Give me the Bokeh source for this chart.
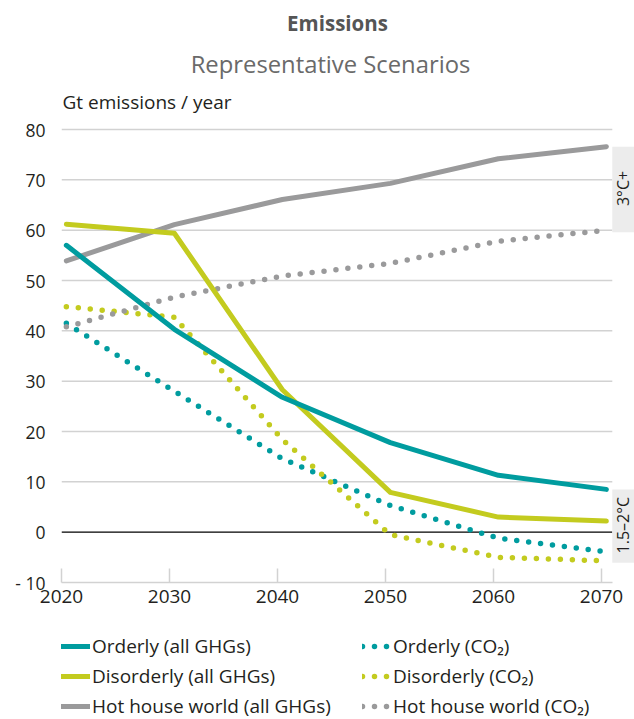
import math
from bokeh.plotting import figure
from bokeh.layouts import column
from bokeh.models import Range1d, FixedTicker, Label, Legend, LegendItem
from bokeh.core.properties import value
from bokeh.embed import file_html
from bokeh.resources import INLINE

# ---------------- data ----------------
years = [2020, 2030, 2040, 2050, 2060, 2070]
orderly_ghg = [57.0, 40.3, 26.8, 17.8, 11.3, 8.5]
disorderly_ghg = [61.2, 59.4, 28.3, 7.9, 3.0, 2.2]
hothouse_ghg = [53.9, 61.1, 66.1, 69.3, 74.2, 76.6]
orderly_co2 = [41.5, 28.0, 14.6, 5.3, -1.2, -3.9]
disorderly_co2 = [44.8, 42.7, 18.4, -0.5, -5.0, -5.7]
hothouse_co2 = [40.8, 46.7, 50.9, 53.4, 57.8, 60.0]
y_ticks = [-10, 0, 10, 20, 30, 40, 50, 60, 70, 80]
y_tick_overrides = {-10: "- 10"}
box_labels = ["3°C+", "1.5–2°C"]
legend_labels_ghg = ["Orderly (all GHGs)", "Disorderly (all GHGs)", "Hot house world (all GHGs)"]
legend_labels_co2 = ["Orderly (CO₂)", "Disorderly (CO₂)", "Hot house world (CO₂)"]

# ---------------- style ----------------
FONT = "Open Sans"
TEAL = "#009c9f"
LIME = "#c3cb1f"
GREY = "#9a9a9b"
TXT = "#231f20"
GRID = "#d2d2d2"
BOX = "#ececec"

W = 634
H_MAIN, H_LEG = 615, 104
LEFT, BOTTOM = 61, 33          # frame: x 61..634, y 0..582
PX_PER_UNIT = 5.033
Y_TOP = -10 + (H_MAIN - BOTTOM) / PX_PER_UNIT
PX_PER_YEAR = 10.8
X_START = 2020
X_END = X_START + (W - LEFT) / PX_PER_YEAR
GRID_END = 2071.0
X_SHIFT = 0.45
DOT_DASH = "0 12"

p = figure(width=W, height=H_MAIN, output_backend="svg", toolbar_location=None,
           x_range=Range1d(X_START, X_END), y_range=Range1d(-10, Y_TOP),
           min_border_left=LEFT, min_border_right=0, min_border_top=0,
           min_border_bottom=BOTTOM)
p.outline_line_color = None
p.xgrid.grid_line_color = None
p.ygrid.grid_line_color = None

# axes
p.xaxis.ticker = FixedTicker(ticks=years)
p.xaxis.bounds = (X_START, GRID_END)
p.xaxis.axis_line_color = GRID
p.xaxis.axis_line_width = 1.5
p.xaxis.major_tick_in = 14
p.xaxis.major_tick_out = 0
p.xaxis.major_tick_line_color = GRID
p.xaxis.major_tick_line_width = 1.5
p.xaxis.minor_tick_line_color = None
p.xaxis.major_label_standoff = 7
p.xaxis.major_label_text_font_size = "19px"
p.yaxis.ticker = FixedTicker(ticks=y_ticks)
p.yaxis.major_label_overrides = y_tick_overrides
p.yaxis.axis_line_color = None
p.yaxis.major_tick_line_color = None
p.yaxis.minor_tick_line_color = None
p.yaxis.major_label_standoff = 10
p.yaxis.major_label_text_font_size = "17.5px"
for ax in (p.xaxis, p.yaxis):
    ax.major_label_text_font = FONT
    ax.major_label_text_color = TXT

# grid lines (stop before the side boxes)
grid_vals = [v for v in y_ticks if v > 0]
p.segment(x0=[X_START] * len(grid_vals), x1=[GRID_END] * len(grid_vals),
          y0=grid_vals, y1=grid_vals, line_color=GRID, line_width=1.5)
p.segment(x0=[X_START], x1=[GRID_END], y0=[0], y1=[0], line_color="black", line_width=1.2)

# side boxes
hot_ends = [hothouse_ghg[-1], hothouse_co2[-1]]
low_ends = [orderly_ghg[-1], disorderly_ghg[-1], orderly_co2[-1], disorderly_co2[-1]]
groups = [hot_ends, low_ends]
p.quad(left=[GRID_END] * 2, right=[X_END] * 2,
       bottom=[min(g) - 0.4 for g in groups], top=[max(g) for g in groups],
       fill_color=BOX, line_color=None)
p.text(x=[GRID_END + 1.0] * 2, y=[(min(g) + max(g)) / 2 for g in groups],
       text=box_labels, angle=math.pi / 2, text_align="center", text_baseline="middle",
       text_font=value(FONT), text_font_size="16px", text_color=TXT)

xs = [y + X_SHIFT for y in years]
series = [
    (orderly_ghg, orderly_co2, TEAL),
    (disorderly_ghg, disorderly_co2, LIME),
    (hothouse_ghg, hothouse_co2, GREY),
]
for ghg, co2, col in series:
    p.line(xs, co2, line_color=col, line_width=5.5, line_dash=DOT_DASH,
           line_cap="round", line_join="round")
for ghg, co2, col in reversed(series):
    p.line(xs, ghg, line_color=col, line_width=5, line_cap="round", line_join="round")

# titles (inside the top part of the frame)
frame_h = H_MAIN - BOTTOM
def top_label(text, x, y_from_top, size, color, align="center", style="normal"):
    p.add_layout(Label(x=x - LEFT, y=frame_h - y_from_top, x_units="screen", y_units="screen",
                       text=text, text_align=align, text_baseline="middle",
                       text_font=FONT, text_font_size=size, text_font_style=style,
                       text_color=color))

top_label("Emissions", 337, 22, "20.5px", "#555555", style="bold")
top_label("Representative Scenarios", 330, 63, "23.8px", "#6a6a6a")
top_label("Gt emissions / year", 62, 101, "19px", TXT, align="left")

# ---------------- legend figure (series drawn off-range, only the legend shows) ----------------
lg = figure(width=W, height=H_LEG, output_backend="svg", toolbar_location=None,
            x_range=Range1d(0, 1), y_range=Range1d(0, 1),
            x_axis_location=None, y_axis_location=None, min_border=0,
            min_border_left=LEFT)
lg.outline_line_color = None
lg.xgrid.grid_line_color = None
lg.ygrid.grid_line_color = None
ghg_r, co2_r = [], []
for ghg, co2, col in series:
    ghg_r.append(lg.line(xs, ghg, line_color=col, line_width=5, line_cap="round"))
    co2_r.append(lg.line(xs, co2, line_color=col, line_width=5.5, line_dash=DOT_DASH,
                         line_cap="round"))
items = [LegendItem(label=l, renderers=[r]) for l, r in zip(legend_labels_ghg, ghg_r)]
items += [LegendItem(label=l, renderers=[r]) for l, r in zip(legend_labels_co2, co2_r)]
legend = Legend(items=items, orientation="vertical", nrows=3, location=(0, 0),
                glyph_width=29, glyph_height=20, label_height=20, label_width=266,
                label_standoff=2, spacing=4, padding=0, margin=0,
                border_line_color=None, background_fill_alpha=0,
                label_text_font=FONT, label_text_font_size="19px",
                label_text_color=TXT)
lg.add_layout(legend)

open("out.html", "w").write(file_html(column(p, lg, spacing=0), INLINE))
